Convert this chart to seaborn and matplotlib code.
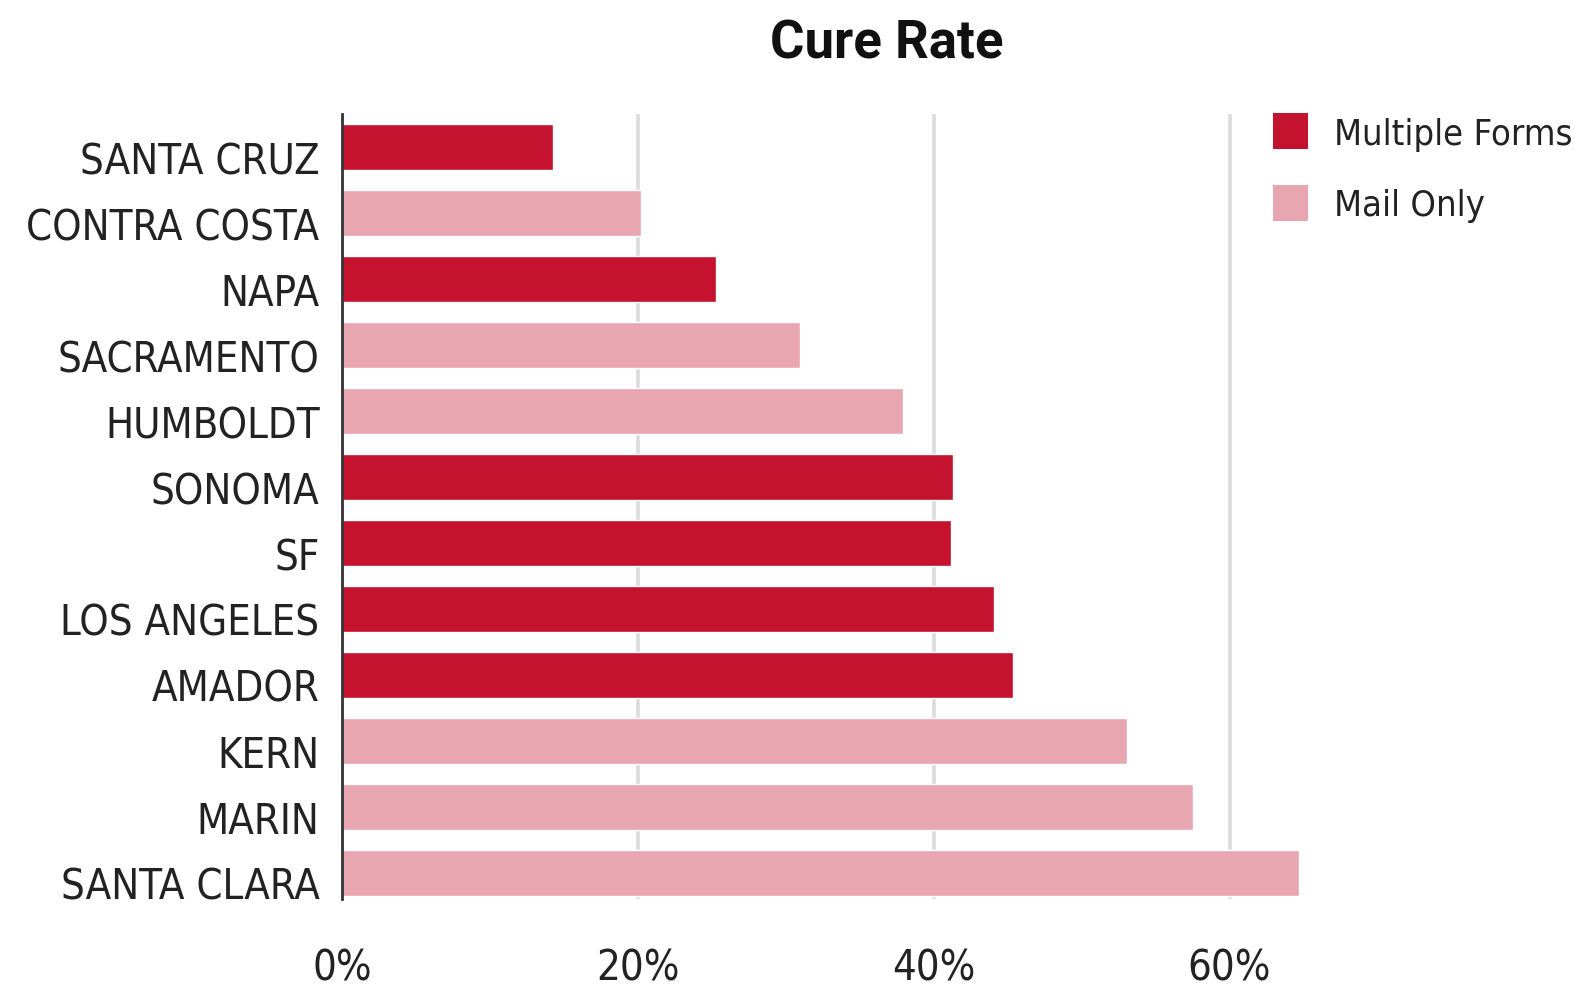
import matplotlib
matplotlib.use("Agg")
import matplotlib.pyplot as plt
import matplotlib.transforms as mtransforms
from matplotlib import font_manager
from matplotlib.patches import Patch
from matplotlib.ticker import FuncFormatter
import seaborn as sns
import pandas as pd

counties = ["SANTA CRUZ", "CONTRA COSTA", "NAPA", "SACRAMENTO", "HUMBOLDT", "SONOMA",
            "SF", "LOS ANGELES", "AMADOR", "KERN", "MARIN", "SANTA CLARA"]
cure_rate = [0.143, 0.202, 0.253, 0.310, 0.379, 0.413,
             0.412, 0.441, 0.454, 0.531, 0.575, 0.647]
method = ["Multiple Forms", "Mail Only", "Multiple Forms", "Mail Only", "Mail Only", "Multiple Forms",
          "Multiple Forms", "Multiple Forms", "Multiple Forms", "Mail Only", "Mail Only", "Mail Only"]
x_ticks = [0, 0.2, 0.4, 0.6]
palette = {"Multiple Forms": "#C4122F", "Mail Only": "#E8A6B1"}

df = pd.DataFrame({"county": counties, "rate": cure_rate, "method": method})

sns.set_theme(style="white")

# prefer a narrow face for labels when one is installed
narrow = None
for f in font_manager.fontManager.ttflist:
    nm = f.name.lower()
    fn = f.fname.lower()
    if ("narrow" in nm or "condensed" in nm or "condensed" in fn or "narrow" in fn) \
            and f.weight in (400, "normal", "regular") and f.style == "normal":
        narrow = f
        break

if narrow is not None:
    label_font = font_manager.FontProperties(fname=narrow.fname)
    label_size, legend_size = 30, 26
    plt.rcParams["font.family"] = [narrow.name, "Roboto", "DejaVu Sans"]
else:
    label_font = font_manager.FontProperties(family="Roboto")
    label_size, legend_size = 27, 23
    plt.rcParams["font.family"] = ["Roboto", "DejaVu Sans"]

fig = plt.figure(figsize=(15.75, 9.87), dpi=100)
ax = fig.add_axes([0.217, 0.088, 0.62, 0.795])

sns.barplot(data=df, y="county", x="rate", hue="method", order=counties,
            palette=palette, dodge=False, width=0.7, saturation=1,
            legend=False, ax=ax, zorder=3)

ax.set_xlim(0, 0.66)
ax.set_ylim(11.4, -0.49)
ax.set_xticks(x_ticks)
ax.xaxis.set_major_formatter(FuncFormatter(lambda v, _: f"{v * 100:.0f}%"))
ax.grid(axis="x", color="#DCDCDC", linewidth=2.6, zorder=0)
ax.grid(axis="y", visible=False)
for side in ["top", "right", "bottom"]:
    ax.spines[side].set_visible(False)
ax.spines["left"].set_color("#333333")
ax.spines["left"].set_linewidth(2)
ax.spines["left"].set_zorder(4)
ax.tick_params(axis="both", length=0, colors="#222222")
ax.tick_params(axis="y", pad=16)
ax.tick_params(axis="x", pad=34)
for lab in ax.get_yticklabels() + ax.get_xticklabels():
    lab.set_fontproperties(label_font)
    lab.set_fontsize(label_size)
# county names sit a little below the bar centres
shift_down = mtransforms.ScaledTranslation(0, -7 / 72, fig.dpi_scale_trans)
for lab in ax.get_yticklabels():
    lab.set_transform(lab.get_transform() + shift_down)
ax.set_xlabel("")
ax.set_ylabel("")

fig.text(0.563, 0.955, "Cure Rate", ha="center", va="center",
         fontsize=38, fontweight="bold", color="#111111", family="Roboto")

legend_font = label_font.copy()
legend_font.set_size(legend_size)
handles = [Patch(facecolor=palette[k], edgecolor="none", label=k) for k in palette]
fig.legend(handles=handles, loc="upper left", bbox_to_anchor=(0.8085, 0.884),
           frameon=False, prop=legend_font, borderpad=0, borderaxespad=0,
           handlelength=0.97, handleheight=1.15, handletextpad=0.7,
           labelspacing=0.95, labelcolor="#222222")

fig.savefig("out.png", dpi=100)
